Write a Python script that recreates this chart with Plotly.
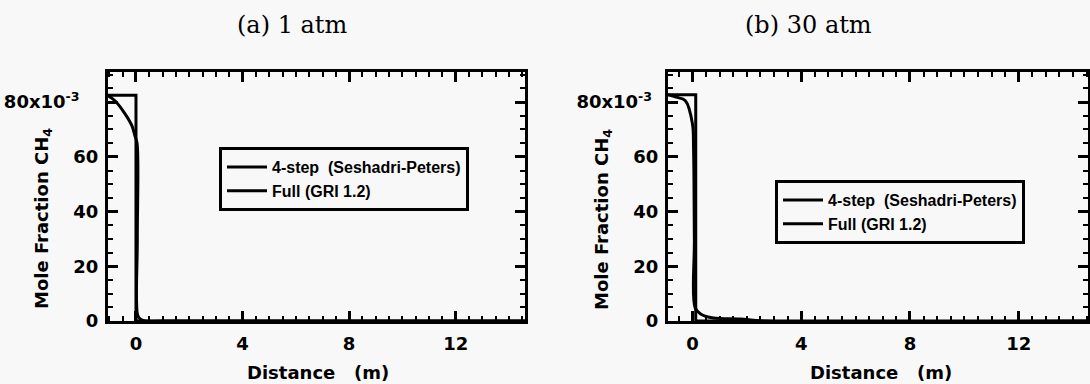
import plotly.graph_objects as go

# ---- data (mole fraction CH4 vs distance in m) ----
a_step_x = [-1.05, 0.0, 0.0, 14.6]
a_step_y = [0.0825, 0.0825, 0.0, 0.0]
a_full_x = [-1.05, -0.79, -0.41, -0.15, -0.04, 0.04, 0.05, 0.06, 0.15, 0.34, 1.0, 14.6]
a_full_y = [0.0823, 0.0805, 0.0757, 0.0713, 0.0677, 0.065, 0.03, 0.0022, 0.0008, 0.0, 0.0, 0.0]

b_step_x = [-0.9, 0.12, 0.12, 14.55]
b_step_y = [0.0827, 0.0827, 0.0, 0.0]
b_full_x = [-0.9, -0.6, -0.26, 0.0, 0.04, 0.07, 0.1, 0.3, 0.77, 1.76, 2.6, 14.55]
b_full_y = [0.0827, 0.0818, 0.0805, 0.072, 0.063, 0.03, 0.0048, 0.0026, 0.0011, 0.0007, 0.0, 0.0]

NB = "\u00a0"
names = ["4-step" + NB + NB + "(Seshadri-Peters)", "Full (GRI 1.2)"]
panel_titles = ["(a) 1 atm", "(b) 30 atm"]
x_title = "Distance" + NB * 3 + "(m)"
y_title = "Mole Fraction CH<sub>4</sub>"
x_ticks = [0, 4, 8, 12]
y_labels = {"0": "0", "0.02": "20", "0.04": "40", "0.06": "60"}
top_label = "80x10<sup>-3</sup>"

BG = "#f8f8f8"
tick_font = dict(family="DejaVu Sans", size=18, color="black", weight="bold")
title_font = dict(family="DejaVu Sans", size=18, color="black", weight="bold")
leg_font = dict(family="Liberation Sans", size=16, color="black", weight="bold")

fig = go.Figure()
line = dict(color="black", width=3)
fig.add_trace(go.Scatter(x=a_step_x, y=a_step_y, mode="lines", line=line, name=names[0],
                         xaxis="x", yaxis="y", legend="legend"))
fig.add_trace(go.Scatter(x=a_full_x, y=a_full_y, mode="lines", line=line, name=names[1],
                         line_shape="spline", xaxis="x", yaxis="y", legend="legend"))
fig.add_trace(go.Scatter(x=b_step_x, y=b_step_y, mode="lines", line=line, name=names[0],
                         xaxis="x2", yaxis="y2", legend="legend2"))
fig.add_trace(go.Scatter(x=b_full_x, y=b_full_y, mode="lines", line=line, name=names[1],
                         line_shape="spline", xaxis="x2", yaxis="y2", legend="legend2"))

W, H = 1090, 384
def px(x):
    return x / W
def py(y):
    return (H - y) / H

def xaxis(dom, rng, anchor):
    return dict(domain=dom, range=rng, anchor=anchor, showline=True, linewidth=3, linecolor="black",
                mirror="allticks", ticks="inside", ticklen=10, tickwidth=2.5, tickcolor="black",
                tickmode="array", tickvals=x_ticks, tickfont=tick_font, showgrid=False, zeroline=False,
                ticklabelstandoff=4,
                minor=dict(ticks="inside", ticklen=5, tickwidth=2, tickcolor="black", dtick=0.5, tick0=0,
                           showgrid=False),
                automargin=False)

def yaxis(dom, anchor, pad):
    alias = dict(y_labels)
    alias["0.08"] = top_label + NB * pad
    return dict(domain=dom, range=[0, 0.091], anchor=anchor, showline=True, linewidth=3, linecolor="black",
                mirror="allticks", ticks="inside", ticklen=10, tickwidth=2.5, tickcolor="black",
                tickmode="linear", tick0=0, dtick=0.02, labelalias=alias, tickfont=tick_font,
                showgrid=False, zeroline=False, ticklabelstandoff=3,
                minor=dict(ticks="inside", ticklen=5, tickwidth=2, tickcolor="black", dtick=0.005, tick0=0,
                           showgrid=False),
                automargin=False)

ydom = [py(321), py(72)]
fig.update_layout(
    width=W, height=H, margin=dict(l=0, r=0, t=0, b=0),
    paper_bgcolor=BG, plot_bgcolor=BG,
    xaxis=xaxis([px(108), px(525)], [-1.05, 14.6], "y"),
    yaxis=yaxis(ydom, "x", 3),
    xaxis2=xaxis([px(668), px(1088)], [-0.9, 14.55], "y2"),
    yaxis2=yaxis(ydom, "x2", 1),
    legend=dict(x=px(219), y=py(147), xanchor="left", yanchor="top", bgcolor=BG,
                bordercolor="black", borderwidth=3, font=leg_font, tracegroupgap=0, itemwidth=40),
    legend2=dict(x=px(775), y=py(180), xanchor="left", yanchor="top", bgcolor=BG,
                 bordercolor="black", borderwidth=3, font=leg_font, tracegroupgap=0, itemwidth=40),
    showlegend=True,
)

# panel titles
for t, xc in zip(panel_titles, [292, 808]):
    fig.add_annotation(text=t, x=px(xc), y=py(25), xref="paper", yref="paper",
                       xanchor="center", yanchor="middle", showarrow=False,
                       font=dict(family="DejaVu Serif", size=24, color="black"))
# axis titles
for xc in [318, 881]:
    fig.add_annotation(text=x_title, x=px(xc), y=0, xref="paper", yref="paper",
                       xanchor="center", yanchor="bottom", showarrow=False, font=title_font,
                       borderpad=0)
for xc in [43, 603]:
    fig.add_annotation(text=y_title, x=px(xc), y=py(219), xref="paper", yref="paper",
                       xanchor="center", yanchor="middle", showarrow=False, textangle=-90,
                       font=title_font)

fig.write_html("out.html")
